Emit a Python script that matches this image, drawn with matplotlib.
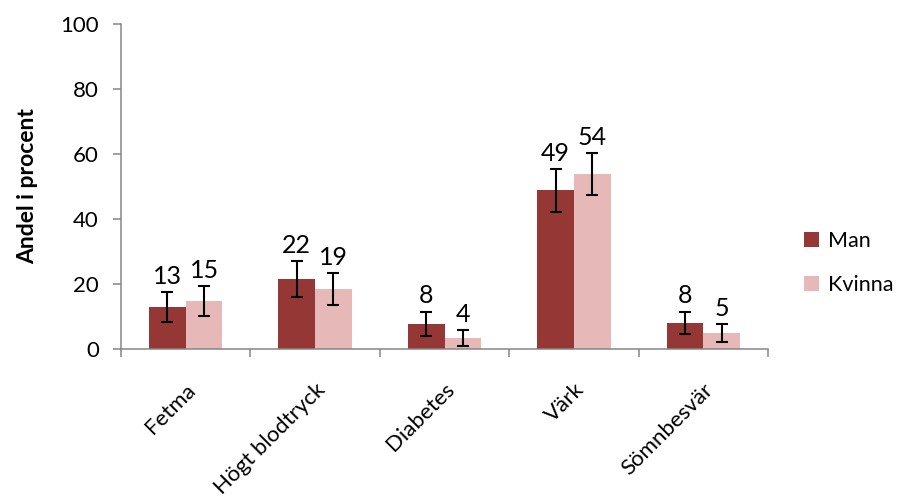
import matplotlib
matplotlib.use("Agg")
import matplotlib.pyplot as plt
import numpy as np

plt.rcParams['font.family'] = ['Lato', 'DejaVu Sans']

categories = ['Fetma', 'Högt blodtryck', 'Diabetes', 'Värk', 'Sömnbesvär']
man = [12.9, 21.5, 7.8, 48.8, 8.0]
kvinna = [14.8, 18.4, 3.4, 53.9, 4.9]
man_err = [4.6, 5.5, 3.7, 6.6, 3.5]
kvinna_err = [4.5, 5.0, 2.4, 6.4, 2.8]
man_labels = ['13', '22', '8', '49', '8']
kvinna_labels = ['15', '19', '4', '54', '5']

fig = plt.figure(figsize=(9.01, 5.0), dpi=100)
ax = fig.add_axes([0.1343, 0.302, 0.7181, 0.650])

x = np.arange(len(categories))
w = 0.284
axis_grey = '#868686'
err_kw = dict(ecolor='black', elinewidth=1.5, capsize=4.5, capthick=1.5)

ax.bar(x - w / 2, man, w, color='#953735', yerr=man_err, error_kw=err_kw, label='Man')
ax.bar(x + w / 2, kvinna, w, color='#E6B9B8', yerr=kvinna_err, error_kw=err_kw, label='Kvinna')

for i in range(len(categories)):
    ax.annotate(man_labels[i], (x[i] - w / 2, man[i] + man_err[i]), xytext=(0, 3),
                textcoords='offset points', ha='center', va='bottom', fontsize=18)
    ax.annotate(kvinna_labels[i], (x[i] + w / 2, kvinna[i] + kvinna_err[i]), xytext=(0, 3),
                textcoords='offset points', ha='center', va='bottom', fontsize=18)

ax.set_xlim(-0.5, len(categories) - 0.5)
ax.set_ylim(0, 100)
ax.set_yticks([0, 20, 40, 60, 80, 100])
ax.tick_params(axis='y', direction='out', length=6, width=1.1, color=axis_grey, labelsize=16, pad=10)

ax.set_xticks(x)
ax.set_xticklabels(categories, rotation=45, ha='right', rotation_mode='anchor', fontsize=16)
ax.set_xticks(np.arange(len(categories) + 1) - 0.5, minor=True)
ax.tick_params(axis='x', which='major', length=0, pad=22)
ax.tick_params(axis='x', which='minor', direction='out', length=6, width=1.1, color=axis_grey)

for side in ['top', 'right']:
    ax.spines[side].set_visible(False)
for side in ['left', 'bottom']:
    ax.spines[side].set_color(axis_grey)
    ax.spines[side].set_linewidth(1.1)

ax.set_ylabel('Andel i procent', fontsize=16.5, fontweight='bold', labelpad=16)

ax.legend(loc='center left', bbox_to_anchor=(1.025, 0.265), frameon=False, fontsize=15.5,
          handlelength=0.7, handleheight=0.7, handletextpad=0.45, labelspacing=1.1)

fig.savefig('out.png', dpi=100)
